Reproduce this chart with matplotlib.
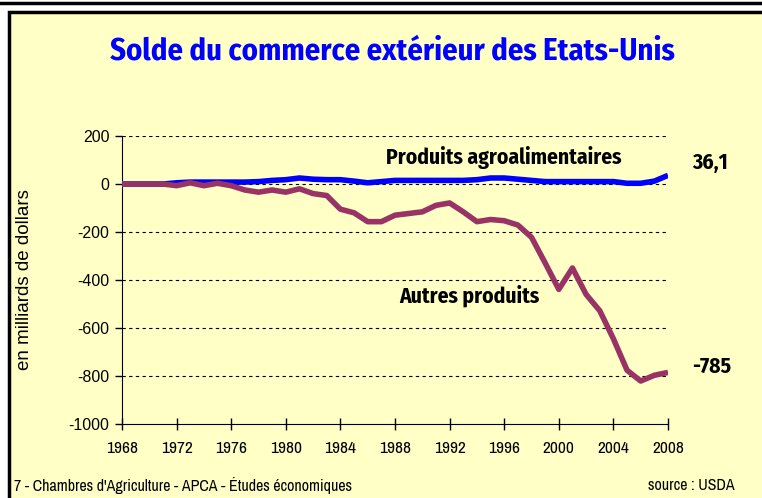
import matplotlib.pyplot as plt
from matplotlib.patches import Rectangle
from matplotlib.lines import Line2D

years = list(range(1968, 2009))

# Produits agroalimentaires (milliards de dollars)
agro = [0, 0, 0, 0, 5, 8, 8, 8, 8, 8, 10, 15, 18, 25, 20, 18, 18, 12, 5, 10,
        15, 15, 15, 15, 15, 15, 18, 25, 25, 20, 15, 10, 10, 10, 10, 10, 10,
        3, 3, 12, 36.1]

# Autres produits
autres = [0, 0, 0, 0, -7, 5, -7, 3, -7, -25, -34, -25, -34, -20, -40, -48,
          -105, -120, -157, -157, -130, -123, -116, -89, -79, -116, -157,
          -148, -153, -171, -222, -329, -439, -350, -460, -528, -645, -776,
          -821, -797, -785]

yticks = [200, 0, -200, -400, -600, -800, -1000]
xticks = list(range(1968, 2009, 4))

bg = '#FFFFC6'
bold_narrow = ['Fira Sans Condensed', 'DejaVu Sans']
narrow = ['Archivo Narrow', 'DejaVu Sans']

fig = plt.figure(figsize=(7.62, 4.98), dpi=100)
fig.patch.set_facecolor('white')

# cadre jaune
fig.patches.append(Rectangle((9/762, -0.01), 760/762, 486/498 + 0.01, transform=fig.transFigure,
                             facecolor=bg, edgecolor='black', linewidth=2.5, zorder=-5))
fig.lines.append(Line2D([0, 1], [495/498, 495/498], transform=fig.transFigure,
                        color='black', linewidth=2.5, zorder=-5))

ax = fig.add_axes([122/762, 74/498, 546/762, 288/498])
ax.set_zorder(2)
ax.set_facecolor(bg)

ax.plot(years, agro, color='#0000FF', linewidth=4, solid_capstyle='butt', zorder=3)
ax.plot(years, autres, color='#993366', linewidth=4, solid_capstyle='butt', zorder=3)

ax.set_xlim(1968, 2008)
ax.set_ylim(-1000, 200)
ax.set_yticks(yticks)
ax.set_xticks(xticks)
ax.set_xticklabels([str(x) for x in xticks], family=narrow, fontsize=12.5)
ax.set_yticklabels([str(y) for y in yticks], family='Liberation Sans', fontsize=11.5)
ax.tick_params(axis='y', direction='out', length=5, width=1, pad=4)
ax.tick_params(axis='x', direction='inout', length=8, width=1, pad=8)

for y in yticks[:-1]:
    ax.axhline(y, color='black', linewidth=0.8, linestyle=(0, (3, 3)), zorder=1)

for s in ['top', 'right']:
    ax.spines[s].set_visible(False)

ax.set_ylabel('en milliards de dollars', family='Liberation Sans', fontsize=13.5)
ax.yaxis.set_label_coords(-0.163, 0.5)

fig.text(0.515, 0.897, 'Solde du commerce extérieur des Etats-Unis', ha='center', va='center',
         color='#0000FF', fontsize=22, fontweight='bold', family=bold_narrow)

ax.text(2004.6, 110, 'Produits agroalimentaires', ha='right', va='center',
        fontsize=15.5, fontweight='bold', family=bold_narrow)
ax.text(2009.8, 90, '36,1', ha='left', va='center', fontsize=15.5, fontweight='bold',
        family=bold_narrow)
ax.text(1988.3, -465, 'Autres produits', ha='left', va='center',
        fontsize=15.5, fontweight='bold', family=bold_narrow)
ax.text(2009.8, -760, '-785', ha='left', va='center', fontsize=15.5, fontweight='bold',
        family=bold_narrow)

fig.text(14/762, 13/498, "7 - Chambres d'Agriculture - APCA - Études économiques",
         ha='left', va='center', fontsize=11.5, family=narrow)
fig.text(735/762, 13/498, 'source : USDA', ha='right', va='center', fontsize=11.5, family=narrow)

plt.savefig('out.png', dpi=100, facecolor=fig.get_facecolor())
